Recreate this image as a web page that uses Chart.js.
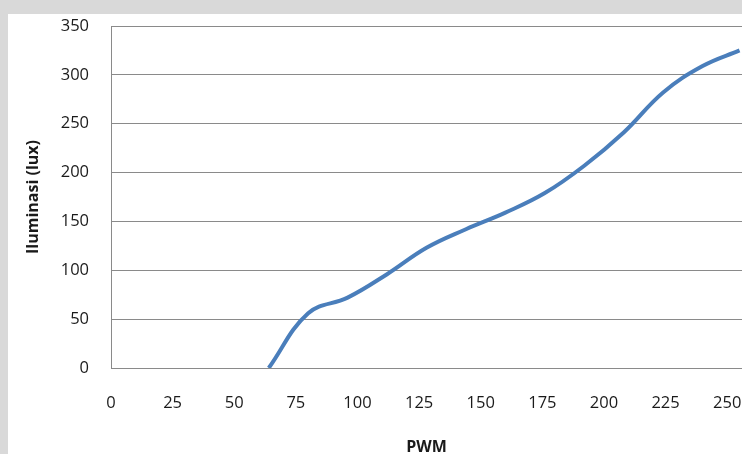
<!DOCTYPE html>
<html>
<head>
<meta charset="utf-8">
<script src="https://cdn.jsdelivr.net/npm/chart.js@4.4.1/dist/chart.umd.min.js"></script>
<style>
  html, body { margin: 0; padding: 0; width: 742px; height: 454px; overflow: hidden; background: #d9d9d9; }
  #wrap { position: absolute; left: 8px; top: 14px; width: 734px; height: 440px; background: #ffffff; }
  canvas { display: block; }
</style>
</head>
<body>
<div id="wrap"><canvas id="c" width="734" height="440"></canvas></div>
<script>
const pwm = [64, 80, 96, 112, 128, 144, 160, 176, 192, 208, 224, 240, 255];
const lux = [0, 56, 72, 96, 123, 142, 159, 179, 207, 241, 282, 309, 325];
const xTicks = [0, 25, 50, 75, 100, 125, 150, 175, 200, 225, 250];
const yTicks = [0, 50, 100, 150, 200, 250, 300, 350];
const xTitle = 'PWM';
const yTitle = 'Iluminasi (lux)';

const points = pwm.map((x, i) => ({ x: x, y: lux[i] }));
const font = { family: "'Open Sans', 'Liberation Sans', sans-serif", size: 16.5 };

new Chart(document.getElementById('c'), {
  type: 'line',
  data: {
    datasets: [{
      data: points,
      borderColor: '#4a7ebb',
      borderWidth: 4,
      pointRadius: 0,
      tension: 0.4,
      fill: false
    }]
  },
  options: {
    responsive: false,
    animation: false,
    layout: { padding: { left: 4, right: 0, top: 12, bottom: 0 } },
    plugins: { legend: { display: false }, tooltip: { enabled: false } },
    scales: {
      x: {
        type: 'linear',
        min: 0, max: 256,
        afterBuildTicks: (s) => { s.ticks = xTicks.map(v => ({ value: v })); },
        ticks: { font: font, color: '#1a1a1a', padding: 25, maxRotation: 0, includeBounds: false },
        grid: { display: false, drawTicks: false },
        border: { display: true, color: '#8a8a8a', width: 1 },
        title: { display: true, text: xTitle, font: { family: font.family, size: 16, weight: 'bold' }, color: '#1a1a1a', padding: { top: 0, bottom: -3 } },
        afterFit: (s) => { s.height = 86; s.paddingRight = 0; s.paddingLeft = 0; }
      },
      y: {
        type: 'linear',
        min: 0, max: 350,
        afterBuildTicks: (s) => { s.ticks = yTicks.map(v => ({ value: v })); },
        ticks: { font: font, color: '#1a1a1a', padding: 22 },
        grid: { color: '#8a8a8a', lineWidth: 1, drawTicks: false },
        border: { display: true, color: '#8a8a8a', width: 1 },
        title: { display: true, text: yTitle, font: { family: font.family, size: 16, weight: 'bold' }, color: '#1a1a1a', padding: { top: 12, bottom: 4 } },
        afterFit: (s) => { s.width = 99; s.paddingTop = 0; s.paddingBottom = 0; }
      }
    }
  }
});
</script>
</body>
</html>
